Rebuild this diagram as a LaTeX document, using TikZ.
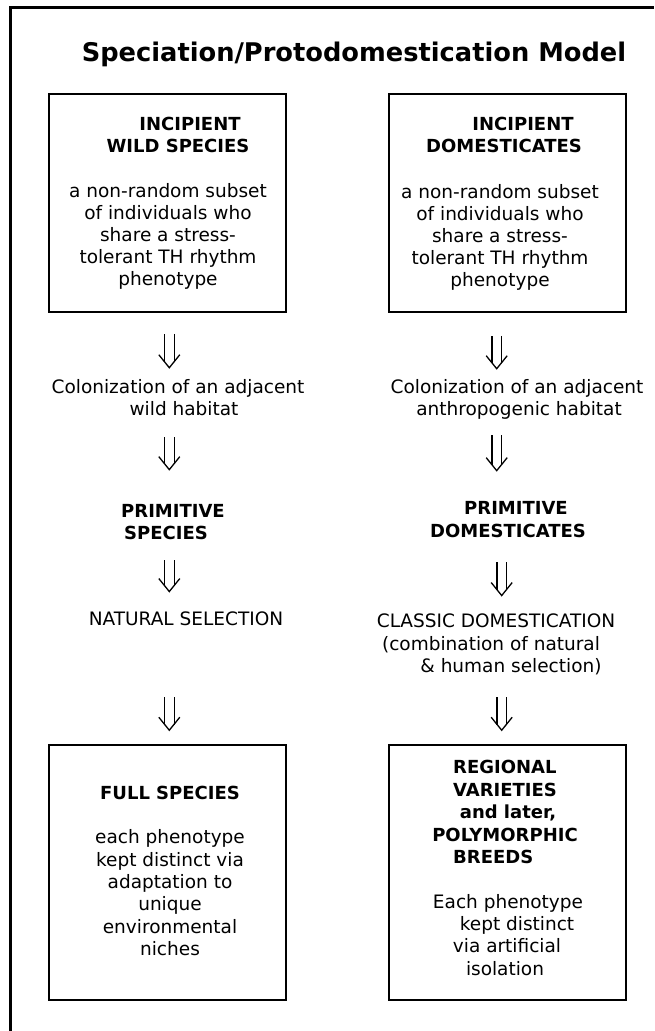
\documentclass[tikz,border=0pt]{standalone}
\usepackage{fontspec}
\setmainfont{DejaVu Sans}
\usetikzlibrary{arrows.meta}
\begin{document}
\begin{tikzpicture}[x=1pt,y=-1pt,
  txt/.style={inner sep=0pt, anchor=base, text=black, font=\fontsize{18.5}{22}\selectfont},
  hd/.style={inner sep=0pt, anchor=base, text=black, font=\fontsize{18}{22}\selectfont\bfseries},
  hdl/.style={hd, anchor=base west},
  ttl/.style={inner sep=0pt, anchor=base, text=black, font=\fontsize{25.7}{30}\selectfont\bfseries},
  boxst/.style={draw=black, line width=1.5pt, inner sep=0pt, minimum width=237pt},
  arr/.style 2 args={
    preaction={draw=black, double=white, double distance=8.4pt, line width=1.3pt,
               shorten <=#1, shorten >=#2+6.6pt},
    postaction={draw=white, line width=0.1pt, shorten <=#1, shorten >=#2,
               -{Straight Barb[length=13pt, width=21pt, line width=1.3pt, color=black]}}}
]
\useasboundingbox (0,0) rectangle (654,1031);
% outer frame (left and top edges only)
\draw[line width=3pt] (10.5,1031) -- (10.5,7.5) -- (654,7.5);

% title
\node[ttl] (title) at (354,61) {Speciation/Protodomestication Model};

% column axes for arrows
\coordinate (axL) at (169.3,0);
\coordinate (axR) at (496.7,0);
\coordinate (axRb) at (501.7,0);

% ---------- top boxes
\node[boxst, minimum height=218pt] (bL1) at (167.5,203) {};
\node[boxst, minimum height=218pt] (bR1) at (507.5,203) {};

\node[hd] (iwL1) at (190,130) {INCIPIENT};
\node[hd] (iwL2) at (178,152) {WILD SPECIES};
\node[txt] (dL1) at (168,197) {a non-random subset};
\node[txt] (dL2) at (168,219) {of individuals who};
\node[txt] (dL3) at (168,241) {share a stress-};
\node[txt] (dL4) at (168,263) {tolerant TH rhythm};
\node[txt] (dL5) at (168,285) {phenotype};

\node[hd] (idR1) at (523,130) {INCIPIENT};
\node[hd] (idR2) at (504,152) {DOMESTICATES};
\node[txt] (dR1) at (500,198) {a non-random subset};
\node[txt] (dR2) at (500,220) {of individuals who};
\node[txt] (dR3) at (500,242) {share a stress-};
\node[txt] (dR4) at (500,264) {tolerant TH rhythm};
\node[txt] (dR5) at (500,286) {phenotype};

% ---------- colonization
\node[txt] (colL1) at (178,393) {Colonization of an adjacent};
\node[txt] (colL2) at (184,415) {wild habitat};
\node[txt] (colR1) at (517,393) {Colonization of an adjacent};
\node[txt] (colR2) at (519,415) {anthropogenic habitat};

% ---------- primitive
\node[hd] (primL1) at (173,517) {PRIMITIVE};
\node[hd] (primL2) at (166,539) {SPECIES};
\node[hd] (primR1) at (516,514) {PRIMITIVE};
\node[hd] (primR2) at (508,537) {DOMESTICATES};

% ---------- selection
\node[txt] (natL) at (186,625) {NATURAL SELECTION};
\node[txt] (clsR1) at (496,627) {CLASSIC DOMESTICATION};
\node[txt] (clsR2) at (491,650) {(combination of natural};
\node[txt] (clsR3) at (511,672) {\& human selection)};

% ---------- bottom boxes
\node[boxst, minimum height=255pt] (bL2) at (167.5,872.5) {};
\node[boxst, minimum height=255pt] (bR2) at (507.5,872.5) {};

\node[hd] (fsL) at (170,799) {FULL SPECIES};
\node[txt] (eL1) at (170,843) {each phenotype};
\node[txt] (eL2) at (170,866) {kept distinct via};
\node[txt] (eL3) at (170,888) {adaptation to};
\node[txt] (eL4) at (170,910) {unique};
\node[txt] (eL5) at (170,933) {environmental};
\node[txt] (eL6) at (170,955) {niches};

\node[hdl] (rvR1) at (453,773) {REGIONAL};
\node[hdl] (rvR2) at (453,796) {VARIETIES};
\node[hd]  (rvR3) at (508,818) {and later,};
\node[hd]  (rvR4) at (505,841) {POLYMORPHIC};
\node[hdl] (rvR5) at (453,863) {BREEDS};
\node[txt] (eR1) at (508,908) {Each phenotype};
\node[txt] (eR2) at (517,930) {kept distinct};
\node[txt] (eR3) at (507,952) {via artificial};
\node[txt] (eR4) at (505,975) {isolation};

% ---------- arrows (double-shafted, open chevron head)
\path[arr={21pt}{10pt}] (bL1.south -| axL) -- (colL1.north -| axL);
\path[arr={23pt}{9pt}] (bR1.south -| axR) -- (colR1.north -| axR);
\path[arr={22pt}{33pt}] (colL2.south -| axL) -- (primL1.north -| axL);
\path[arr={16pt}{29pt}] (colR2.south -| axR) -- (primR1.north -| axR);
\path[arr={21pt}{18.5pt}] (primL2.south -| axL) -- (natL.north -| axL);
\path[arr={25pt}{16.5pt}] (primR2.south -| axRb) -- (clsR1.north -| axRb);
\path[arr={72pt}{13pt}] (natL.south -| axL) -- (bL2.north -| axL);
\path[arr={22.5pt}{13pt}] (clsR3.south -| axRb) -- (bR2.north -| axRb);
\end{tikzpicture}
\end{document}
